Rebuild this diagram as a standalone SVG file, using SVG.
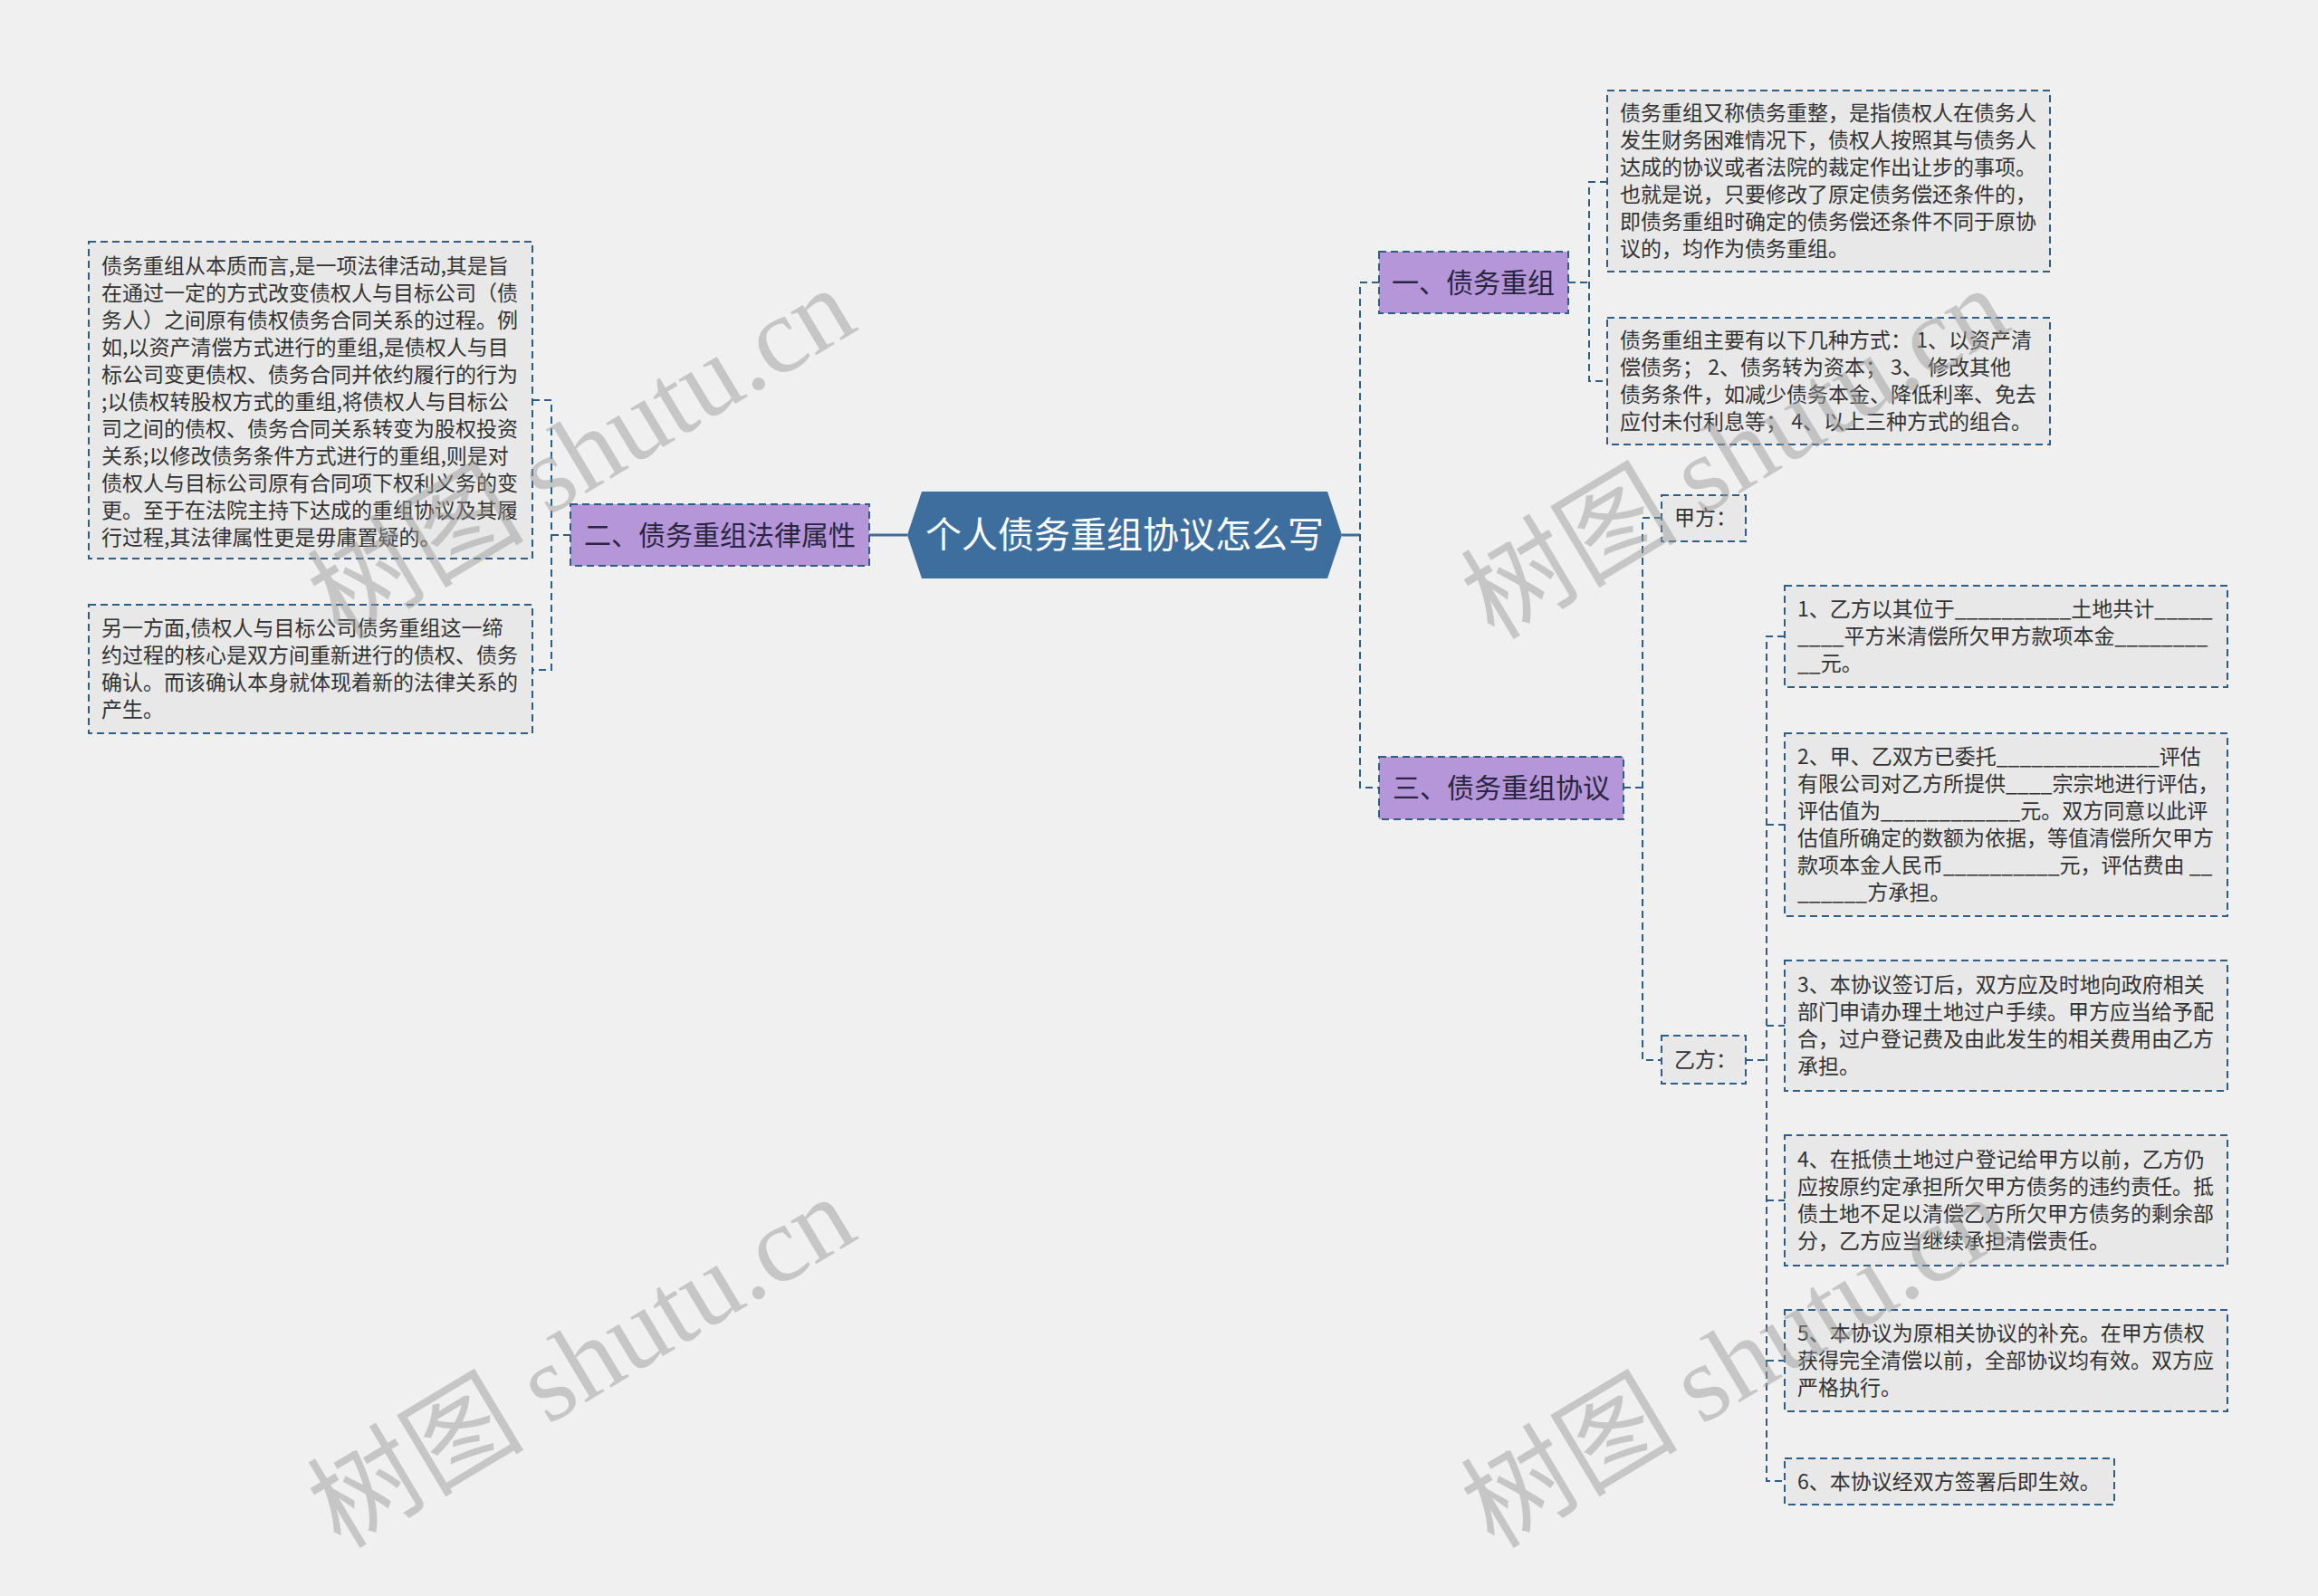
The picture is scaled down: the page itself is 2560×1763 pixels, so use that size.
<svg xmlns="http://www.w3.org/2000/svg" width="2560" height="1763" viewBox="0 0 2560 1763">
<defs>
<style>
.bg{fill:#f0f0f0}
.box{fill:#e8e8e8;stroke:#2e5e88;stroke-width:2;stroke-dasharray:8 5}
.topic{fill:#b596d8;stroke:#2e5e88;stroke-width:2;stroke-dasharray:8 5}
.t{font-family:"Noto Sans CJK SC","Microsoft YaHei",sans-serif;font-size:23px;fill:#333333}
.tt{font-family:"Noto Sans CJK SC","Microsoft YaHei",sans-serif;font-size:30px;fill:#2a2540;text-anchor:middle}
.root{font-family:"Noto Sans CJK SC","Microsoft YaHei",sans-serif;font-size:40px;fill:#ffffff;text-anchor:middle}
.c{fill:none;stroke:#2e5e88;stroke-width:2;stroke-dasharray:8 5}
.cs{fill:none;stroke:#3d6e9e;stroke-width:3}
.wm{font-family:"Noto Sans CJK SC",sans-serif;font-size:120px;fill:#9a9a9a;opacity:0.48}
.wml{font-family:"Liberation Serif",serif}
</style>
</defs>
<rect class="bg" x="0" y="0" width="2560" height="1763"/>

<g id="connectors">
<path class="cs" d="M960,591 H1002"/>
<path class="cs" d="M1482,591 H1502"/>
<path class="c" d="M1523,312 H1502 V870 H1523"/>
<path class="c" d="M630,591 H609"/>
<path class="c" d="M588,442 H609 V740 H588"/>
<path class="c" d="M1732,312 H1755"/>
<path class="c" d="M1775,201 H1755 V421 H1775"/>
<path class="c" d="M1793,870 H1814"/>
<path class="c" d="M1835,572 H1814 V1171 H1835"/>
<path class="c" d="M1928,1171 H1951"/>
<path class="c" d="M1971,703 H1951 V1636 H1971"/>
<path class="c" d="M1951,911 H1971 M1951,1133 H1971 M1951,1326 H1971 M1951,1503 H1971"/>
</g>

<g id="root">
<polygon points="1002,591 1018,543 1466,543 1482,591 1466,639 1018,639" fill="#3d6e9e"/>
<text class="root" x="1242" y="605">个人债务重组协议怎么写</text>
</g>

<g id="topic-2">
<rect class="topic" x="630" y="557" width="330" height="68"/>
<text class="tt" x="795" y="602">二、债务重组法律属性</text>
</g>

<g id="topic-1">
<rect class="topic" x="1523" y="278" width="209" height="68"/>
<text class="tt" x="1627" y="323">一、债务重组</text>
</g>

<g id="topic-3">
<rect class="topic" x="1523" y="836" width="270" height="69"/>
<text class="tt" x="1658" y="881">三、债务重组协议</text>
</g>

<g id="left-1">
<rect class="box" x="98" y="267" width="490" height="350"/>
<text class="t">
<tspan x="112" y="302">债务重组从本质而言,是一项法律活动,其是旨</tspan>
<tspan x="112" y="332">在通过一定的方式改变债权人与目标公司（债</tspan>
<tspan x="112" y="362">务人）之间原有债权债务合同关系的过程。例</tspan>
<tspan x="112" y="392">如,以资产清偿方式进行的重组,是债权人与目</tspan>
<tspan x="112" y="422">标公司变更债权、债务合同并依约履行的行为</tspan>
<tspan x="112" y="452">;以债权转股权方式的重组,将债权人与目标公</tspan>
<tspan x="112" y="482">司之间的债权、债务合同关系转变为股权投资</tspan>
<tspan x="112" y="512">关系;以修改债务条件方式进行的重组,则是对</tspan>
<tspan x="112" y="542">债权人与目标公司原有合同项下权利义务的变</tspan>
<tspan x="112" y="572">更。至于在法院主持下达成的重组协议及其履</tspan>
<tspan x="112" y="602">行过程,其法律属性更是毋庸置疑的。</tspan>
</text>
</g>

<g id="left-2">
<rect class="box" x="98" y="668" width="490" height="142"/>
<text class="t">
<tspan x="112" y="702">另一方面,债权人与目标公司债务重组这一缔</tspan>
<tspan x="112" y="732">约过程的核心是双方间重新进行的债权、债务</tspan>
<tspan x="112" y="762">确认。而该确认本身就体现着新的法律关系的</tspan>
<tspan x="112" y="792">产生。</tspan>
</text>
</g>

<g id="right-a">
<rect class="box" x="1775" y="100" width="489" height="200"/>
<text class="t">
<tspan x="1789" y="133">债务重组又称债务重整，是指债权人在债务人</tspan>
<tspan x="1789" y="163">发生财务困难情况下，债权人按照其与债务人</tspan>
<tspan x="1789" y="193">达成的协议或者法院的裁定作出让步的事项。</tspan>
<tspan x="1789" y="223">也就是说，只要修改了原定债务偿还条件的，</tspan>
<tspan x="1789" y="253">即债务重组时确定的债务偿还条件不同于原协</tspan>
<tspan x="1789" y="283">议的，均作为债务重组。</tspan>
</text>
</g>

<g id="right-b">
<rect class="box" x="1775" y="351" width="489" height="140"/>
<text class="t">
<tspan x="1789" y="384">债务重组主要有以下几种方式： 1、以资产清</tspan>
<tspan x="1789" y="414">偿债务； 2、债务转为资本； 3、 修改其他</tspan>
<tspan x="1789" y="444">债务条件，如减少债务本金、降低利率、免去</tspan>
<tspan x="1789" y="474">应付未付利息等； 4、以上三种方式的组合。</tspan>
</text>
</g>

<g id="party-a">
<rect class="box" x="1835" y="547" width="93" height="51"/>
<text class="t" x="1849" y="580">甲方：</text>
</g>

<g id="party-b">
<rect class="box" x="1835" y="1144" width="93" height="53"/>
<text class="t" x="1849" y="1179">乙方：</text>
</g>

<g id="item-1">
<rect class="box" x="1971" y="647" width="489" height="112"/>
<text class="t">
<tspan x="1985" y="681">1、乙方以其位于__________土地共计_____</tspan>
<tspan x="1985" y="711">____平方米清偿所欠甲方款项本金________</tspan>
<tspan x="1985" y="741">__元。</tspan>
</text>
</g>

<g id="item-2">
<rect class="box" x="1971" y="810" width="489" height="202"/>
<text class="t">
<tspan x="1985" y="844">2、甲、乙双方已委托______________评估</tspan>
<tspan x="1985" y="874">有限公司对乙方所提供____宗宗地进行评估，</tspan>
<tspan x="1985" y="904">评估值为____________元。双方同意以此评</tspan>
<tspan x="1985" y="934">估值所确定的数额为依据，等值清偿所欠甲方</tspan>
<tspan x="1985" y="964">款项本金人民币__________元，评估费由 __</tspan>
<tspan x="1985" y="994">______方承担。</tspan>
</text>
</g>

<g id="item-3">
<rect class="box" x="1971" y="1061" width="489" height="144"/>
<text class="t">
<tspan x="1985" y="1096">3、本协议签订后，双方应及时地向政府相关</tspan>
<tspan x="1985" y="1126">部门申请办理土地过户手续。甲方应当给予配</tspan>
<tspan x="1985" y="1156">合，过户登记费及由此发生的相关费用由乙方</tspan>
<tspan x="1985" y="1186">承担。</tspan>
</text>
</g>

<g id="item-4">
<rect class="box" x="1971" y="1254" width="489" height="144"/>
<text class="t">
<tspan x="1985" y="1289">4、在抵债土地过户登记给甲方以前，乙方仍</tspan>
<tspan x="1985" y="1319">应按原约定承担所欠甲方债务的违约责任。抵</tspan>
<tspan x="1985" y="1349">债土地不足以清偿乙方所欠甲方债务的剩余部</tspan>
<tspan x="1985" y="1379">分，乙方应当继续承担清偿责任。</tspan>
</text>
</g>

<g id="item-5">
<rect class="box" x="1971" y="1447" width="489" height="112"/>
<text class="t">
<tspan x="1985" y="1481">5、本协议为原相关协议的补充。在甲方债权</tspan>
<tspan x="1985" y="1511">获得完全清偿以前，全部协议均有效。双方应</tspan>
<tspan x="1985" y="1541">严格执行。</tspan>
</text>
</g>

<g id="item-6">
<rect class="box" x="1971" y="1611" width="364" height="51"/>
<text class="t" x="1985" y="1645">6、本协议经双方签署后即生效。</text>
</g>

<g id="watermarks">
<text class="wm" transform="translate(376,708) rotate(-31)">树图 <tspan class="wml">shutu.cn</tspan></text>
<text class="wm" transform="translate(1650,708) rotate(-31)">树图 <tspan class="wml">shutu.cn</tspan></text>
<text class="wm" transform="translate(376,1712) rotate(-31)">树图 <tspan class="wml">shutu.cn</tspan></text>
<text class="wm" transform="translate(1650,1712) rotate(-31)">树图 <tspan class="wml">shutu.cn</tspan></text>
</g>
</svg>
